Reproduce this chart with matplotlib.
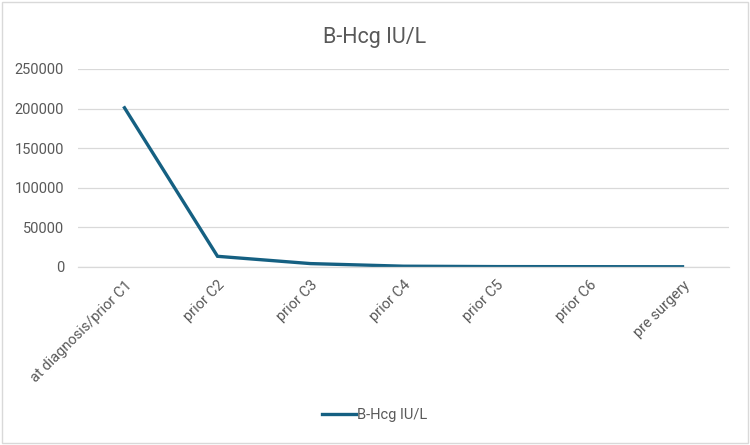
import matplotlib.pyplot as plt
from matplotlib.patches import Rectangle

categories = ["at diagnosis/prior C1", "prior C2", "prior C3", "prior C4",
              "prior C5", "prior C6", "pre surgery"]
hcg_values = [201000, 13500, 4300, 1000, 500, 400, 300]
y_ticks = [0, 50000, 100000, 150000, 200000, 250000]

LINE_COLOR = "#156082"
TEXT_COLOR = "#595959"
GRID_COLOR = "#d9d9d9"

plt.rcParams["font.family"] = ["Liberation Sans Narrow", "Roboto", "DejaVu Sans"]

fig = plt.figure(figsize=(7.5, 4.45), dpi=100)
ax = fig.add_axes([0.104, 0.40, 0.868, 0.445])

x = list(range(len(categories)))
ax.plot(x, hcg_values, color=LINE_COLOR, linewidth=2.4, label="B-Hcg IU/L",
        solid_joinstyle="miter")

ax.set_xlim(-0.5, len(categories) - 0.5)
ax.set_ylim(0, 250000)
ax.set_yticks(y_ticks)
ax.set_yticklabels([str(v) for v in y_ticks])
ax.set_xticks(x)
ax.set_xticklabels(categories, rotation=45, ha="right", rotation_mode="anchor")
ax.tick_params(axis="both", length=0, colors=TEXT_COLOR, labelsize=10.5)
ax.tick_params(axis="y", pad=10)
ax.tick_params(axis="x", pad=8)

ax.grid(axis="y", color=GRID_COLOR, linewidth=0.9)
ax.set_axisbelow(True)
for side in ["top", "right", "left"]:
    ax.spines[side].set_visible(False)
ax.spines["bottom"].set_color(GRID_COLOR)
ax.spines["bottom"].set_linewidth(0.9)

fig.text(0.5, 0.915, "B-Hcg IU/L", ha="center", va="center",
         fontsize=15.5, color=TEXT_COLOR)

fig.legend(loc="center", bbox_to_anchor=(0.5, 0.068), frameon=False,
           fontsize=10.5, labelcolor=TEXT_COLOR, handlelength=2.3,
           handletextpad=0.1)

fig.patches.append(Rectangle((0.003, 0.005), 0.994, 0.99, transform=fig.transFigure,
                             fill=False, edgecolor="#d9d9d9", linewidth=1))

fig.savefig("out.png", dpi=100)
